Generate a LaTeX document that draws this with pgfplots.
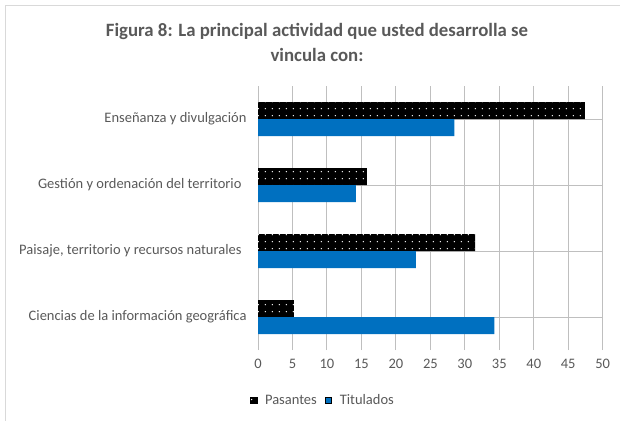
\documentclass[border=0pt]{standalone}
\usepackage{fontspec}
\setmainfont{Carlito}
\usepackage{pgfplots}
\pgfplotsset{compat=1.18}
\usetikzlibrary{patterns.meta}
\definecolor{txt}{HTML}{595959}
\definecolor{tit}{HTML}{0070C0}
\definecolor{grid}{HTML}{D9D9D9}

\begin{document}
\begin{tikzpicture}[x=1bp,y=1bp]
\useasboundingbox (0,0) rectangle (620,420);
\draw[grid, line width=0.8bp] (5,-10) rectangle (640,415);

\node[font=\fontsize{18.8bp}{25bp}\selectfont\bfseries, text=txt, align=center]
  at (317,377.5) {Figura 8: La principal actividad que usted desarrolla se\\vincula con:};

\begin{axis}[
  at={(258bp,70bp)}, anchor=south west,
  scale only axis, width=344.7bp, height=264bp,
  xbar, bar width=17bp,
  xmin=0, xmax=50, xtick={0,5,...,50},
  ymin=-0.5, ymax=3.5, ytick={0,1,2,3},
  yticklabels={Ciencias de la información geográfica,
    {Paisaje, territorio y recursos naturales\hspace*{5bp}},
    Gestión y ordenación del territorio\hspace*{5bp},
    Enseñanza y divulgación},
  axis line style={draw=none},
  major tick length=0pt,
  xmajorgrids, major grid style={grid, line width=0.9bp},
  tick label style={font=\fontsize{14.5bp}{16bp}\selectfont, text=txt},
  /pgf/number format/assume math mode=true,
  xticklabel style={yshift=-6bp},
  yticklabel style={xshift=-8bp},
  legend style={at={(-0.032,-0.19)}, anchor=west, draw=none,
    font=\fontsize{14.5bp}{16bp}\selectfont, text=txt,
    legend columns=2, column sep=6bp,
    nodes={inner xsep=2bp}},
  legend image code/.code={\draw[#1] (0bp,-3.5bp) rectangle (6.5bp,3bp);},
]
\addplot[draw=none, fill=black, bar shift=8.5bp,
  postaction={pattern={Dots[distance=6.8bp, radius=0.75bp]}, pattern color=white}]
  coordinates {(5.2,0) (31.5,1) (15.8,2) (47.4,3)};
\addplot[draw=none, fill=tit, bar shift=-8.5bp]
  coordinates {(34.3,0) (22.9,1) (14.2,2) (28.5,3)};
\legend{Pasantes, Titulados}
\end{axis}
\end{tikzpicture}
\end{document}
